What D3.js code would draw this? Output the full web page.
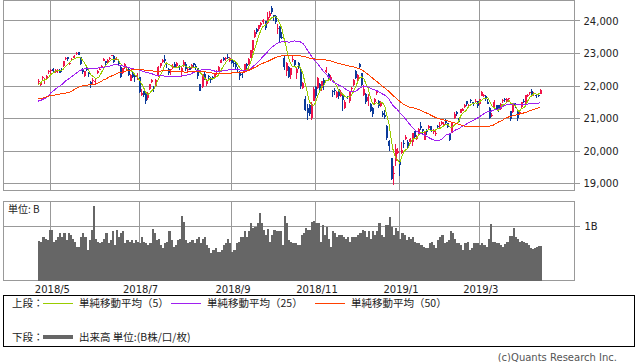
<!DOCTYPE html>
<html>
<head>
<meta charset="utf-8">
<script src="https://cdn.jsdelivr.net/npm/d3@7"></script>
<style>
  body { margin: 0; background: #fff; }
  svg { display: block; font-family: "DejaVu Sans", sans-serif; }
  .jp { font-family: "Noto Sans CJK JP", sans-serif; }
</style>
</head>
<body>
<svg id="chart" width="638" height="362"></svg>
<script>
// trading days shown on the chart (month -> day numbers)
const tradingDays = [
  ["2018/4", [20,23,24,25,26,27]],
  ["2018/5", [1,2,7,8,9,10,11,14,15,16,17,18,21,22,23,24,25,28,29,30,31]],
  ["2018/6", [1,4,5,6,7,8,11,12,13,14,15,18,19,20,21,22,25,26,27,28,29]],
  ["2018/7", [2,3,4,5,6,9,10,11,12,13,17,18,19,20,23,24,25,26,27,30,31]],
  ["2018/8", [1,2,3,6,7,8,9,10,13,14,15,16,17,20,21,22,23,24,27,28,29,30,31]],
  ["2018/9", [3,4,5,6,7,10,11,12,13,14,18,19,20,21,25,26,27,28]],
  ["2018/10", [1,2,3,4,5,9,10,11,12,15,16,17,18,19,22,23,24,25,26,29,30,31]],
  ["2018/11", [1,2,5,6,7,8,9,12,13,14,15,16,19,20,21,22,26,27,28,29,30]],
  ["2018/12", [3,4,5,6,7,10,11,12,13,14,17,18,19,20,21,25,26,27,28]],
  ["2019/1", [4,7,8,9,10,11,15,16,17,18,21,22,23,24,25,28,29,30,31]],
  ["2019/2", [1,4,5,6,7,8,12,13,14,15,18,19,20,21,22,25,26,27,28]],
  ["2019/3", [1,4,5,6,7,8,11,12,13,14,15,18,19,20,22,25,26,27,28,29]],
  ["2019/4", [1,2,3,4,5,8,9,10,11,12]]
];

// closes before the window (2018/2/1 - 2018/4/19), only used to warm up the moving averages
const priorCloses = [
  23486,23274,22682,21610,21645,21891,21383,21245,21154,21464,21720,22149,21925,21970,21736,21892,22153,22389,22068,
  21724,21181,21042,21417,21252,21368,21469,21824,21968,21777,21803,21676,21480,21380,21591,20617,20766,21317,21031,21159,21454,
  21388,21292,21319,21645,21567,21678,21794,21687,21660,21778,21835,21847,22158,22191
];

const opens = [
  22120,22036,22235,22175,22248,22423,
  22489,22530,22455,22472,22488,22512,22612,22847,22882,22667,22810,22877,23002,23050,22889,22500,22316,22512,22427,22137,22183,
  22126,22407,22507,22588,22782,22756,22728,22848,22946,22921,22813,22779,22580,22396,22622,22480,22533,22144,22423,22303,22268,
  22278,21720,21854,21766,21620,21906,22131,21981,22001,22303,22623,22732,22836,22703,22513,22500,22540,22668,22621,22600,22470,
  22621,22665,22498,22589,22545,22710,22611,22558,22051,21974,22359,22050,22319,22236,22287,22278,22394,22478,22720,22856,22821,22896,22773,
  22811,22717,22739,22537,22400,22383,22431,22683,22668,22878,23096,23518,23764,23742,23890,23980,23993,23926,
  24142,24390,24183,24150,23765,23818,23523,22866,22451,22574,22329,22831,22811,22409,22698,22521,21951,21594,21326,21422,21015,21540,
  21957,21951,22072,21939,22185,22442,22380,22227,21836,21864,21670,21912,21700,21735,21337,21663,21540,21910,22027,22460,22228,
  22683,22411,21736,21760,21536,21455,21337,21495,21777,21530,21397,21184,21119,20781,20310,19785,19302,19706,19957,
  19655,19944,20262,20366,20270,20296,20290,20624,20394,20586,20785,20677,20345,20645,20712,20770,20583,20551,20778,
  20764,20844,20810,20926,20864,20547,20562,21018,21188,21021,21167,21237,21359,21543,21406,21575,21509,21523,21536,
  21459,21707,21709,21710,21525,21333,21102,21329,21411,21412,21305,21531,21598,21522,21615,21230,21195,21470,21258,21173,
  21365,21547,21483,21710,21772,21853,21743,21736,21740,21755
];

const highs = [
  22226,22135,22313,22255,22340,22501,
  22532,22556,22528,22535,22522,22540,22770,22880,22888,22745,22850,22947,23050,23050,22903,22567,22464,22591,22444,22164,22236,
  22226,22506,22573,22636,22856,22779,22826,22907,22969,22962,22895,22817,22611,22564,22708,22578,22576,22384,22467,22336,22391,
  22282,21901,21859,21801,21825,22074,22216,22005,22210,22623,22715,22836,22949,22738,22566,22537,22668,22746,22734,22653,22593,
  22806,22730,22545,22618,22684,22717,22688,22566,22056,22362,22445,22230,22341,22284,22319,22403,22480,22628,22828,22883,22890,22977,22906,
  22832,22790,22757,22588,22459,22444,22676,22717,22853,23111,23429,23709,23781,23888,23954,24054,24000,24286,
  24306,24448,24183,24179,23895,23840,23650,22927,22729,22626,22558,22959,22811,22580,22727,22543,22123,21681,21446,21459,21500,21985,
  22007,22267,22095,22164,22240,22583,22403,22325,21876,21950,21835,21921,21882,21749,21559,21686,21830,21979,22202,22485,22365,
  22698,22411,22036,21772,21749,21466,21356,21637,21889,21580,21554,21244,21267,20796,20334,19785,19530,20211,20084,
  19692,20266,20347,20494,20345,20389,20555,20628,20508,20701,20892,20687,20633,20685,20788,20774,20695,20620,20811,
  20910,20919,20888,20981,20864,20564,20882,21213,21235,21030,21303,21337,21455,21553,21457,21610,21518,21598,21545,
  21616,21860,21742,21717,21615,21361,21182,21558,21425,21416,21474,21613,21618,21620,21646,21231,21451,21470,21274,21233,
  21513,21595,21719,21764,21830,21900,21830,21750,21778,21900
];

const lows = [
  22063,21990,22145,22068,22175,22380,
  22384,22435,22390,22390,22388,22430,22590,22790,22780,22650,22760,22850,22960,22944,22660,22361,22294,22461,22290,21931,22018,
  22021,22380,22488,22552,22757,22583,22672,22791,22911,22719,22794,22626,22261,22358,22536,22458,22298,22143,22242,22137,22188,
  21796,21689,21657,21462,21579,21883,22106,21825,21959,22286,22568,22712,22700,22551,22344,22355,22519,22554,22598,22479,22282,
  22596,22452,22410,22485,22533,22597,22505,22221,21851,21933,22179,21993,22219,22101,22183,22232,22346,22430,22700,22769,22781,22819,22747,
  22670,22600,22530,22441,22172,22249,22398,22521,22646,22855,23010,23492,23614,23701,23830,23918,23725,23911,
  24087,24207,24007,23908,23600,23343,23432,22509,22323,22261,22212,22746,22615,22223,22532,21910,21919,21239,20971,21085,20971,21530,
  21619,21904,21862,21859,21880,22388,22183,22153,21658,21713,21627,21598,21656,21243,21285,21588,21465,21835,22004,22232,22167,
  22535,21989,21698,21456,21397,21204,21062,21433,21729,21330,21348,21054,20983,20333,20006,19117,18948,19530,19900,
  19241,19921,20103,20331,20101,20294,20168,20407,20328,20531,20660,20528,20343,20494,20665,20601,20522,20473,20685,
  20698,20801,20746,20835,20721,20315,20547,20996,21085,20856,21164,21220,21326,21400,21338,21480,21375,21497,21315,
  21409,21707,21650,21526,21442,21003,21059,21309,21256,21189,21271,21474,21502,21500,21515,20911,21177,21311,20940,21112,
  21312,21478,21438,21660,21723,21740,21707,21621,21662,21749
];

const closes = [
  22162,22088,22278,22215,22319,22467,
  22508,22472,22467,22509,22408,22497,22758,22865,22818,22717,22838,22930,23002,22960,22689,22437,22450,22481,22358,22018,22201,
  22171,22475,22539,22625,22823,22694,22804,22878,22966,22738,22851,22680,22278,22555,22693,22516,22338,22342,22271,22270,22305,
  21811,21785,21717,21546,21788,22052,22196,21932,22187,22597,22697,22794,22764,22698,22397,22510,22614,22586,22712,22544,22553,
  22746,22512,22525,22507,22662,22644,22598,22298,21857,22356,22204,22192,22270,22199,22219,22362,22410,22601,22799,22813,22848,22869,22865,
  22707,22697,22580,22487,22307,22373,22664,22604,22821,23094,23420,23672,23674,23869,23940,24033,23796,24120,
  24245,24270,24110,23975,23783,23469,23506,22590,22694,22271,22549,22841,22658,22532,22614,22010,22091,21268,21184,21149,21457,21920,
  21687,22243,21898,22147,22085,22486,22250,22269,21810,21846,21803,21680,21821,21583,21507,21646,21812,21952,22177,22262,22351,
  22574,22036,21919,21501,21678,21219,21148,21602,21816,21374,21506,21115,21060,20392,20166,19155,19327,20077,20014,
  19561,20038,20204,20427,20163,20359,20555,20442,20402,20666,20719,20622,20593,20574,20773,20649,20664,20556,20773,
  20788,20883,20844,20874,20751,20333,20864,21144,21139,20900,21281,21302,21431,21464,21425,21528,21449,21556,21385,
  21602,21822,21726,21596,21456,21025,21125,21503,21290,21287,21450,21584,21566,21608,21627,20977,21428,21378,21033,21205,
  21509,21505,21713,21724,21807,21761,21802,21687,21711,21870
];

// volume, billions of shares
const volumes = [
  0.72,0.70,0.79,0.76,0.74,0.93,
  0.93,0.71,0.74,0.80,0.88,0.80,0.87,0.74,0.88,0.83,0.77,0.71,0.62,0.62,0.80,0.88,0.80,0.56,0.74,0.93,1.36,
  0.76,0.71,0.68,0.71,0.77,0.87,0.68,0.74,0.90,0.65,0.93,0.80,0.87,0.90,0.68,0.74,0.71,0.74,0.68,0.74,0.71,
  0.68,0.80,0.71,0.68,0.65,0.68,0.94,0.87,0.74,0.77,0.65,0.59,0.68,0.71,0.90,0.74,0.62,0.65,0.74,0.77,1.19,
  1.08,0.74,0.68,0.71,0.74,0.68,0.77,0.80,0.68,0.77,0.80,0.65,0.59,0.50,0.56,0.59,0.53,0.53,0.56,0.65,0.68,0.77,0.68,
  0.53,0.56,0.68,0.71,0.80,0.80,0.90,0.80,0.90,1.05,0.96,0.99,1.05,1.23,1.05,0.93,0.83,0.94,
  0.71,0.83,0.93,0.90,0.90,0.90,0.65,1.19,1.05,0.74,0.71,0.68,0.68,0.65,0.65,0.83,0.87,0.96,0.93,0.93,1.08,1.09,
  1.05,1.06,0.71,1.02,0.83,0.99,0.77,0.62,0.90,0.87,0.80,0.83,0.83,0.80,0.77,0.80,0.71,0.80,0.80,0.80,0.83,
  0.87,0.93,0.90,0.80,0.91,0.77,0.90,0.83,0.90,1.05,0.83,0.80,1.02,1.02,1.16,0.99,0.83,0.96,0.90,
  0.77,0.87,0.83,0.74,0.80,0.77,0.80,0.71,0.68,0.68,0.65,0.62,0.59,0.59,0.68,0.71,0.65,0.59,0.74,
  0.80,0.83,0.68,0.71,0.74,0.90,0.87,0.77,0.68,0.68,0.65,0.56,0.68,0.71,0.56,0.59,0.69,0.68,0.69,
  0.65,0.68,0.65,0.62,0.77,1.04,0.71,0.71,0.68,0.69,0.65,0.62,0.67,0.71,0.82,0.82,0.96,0.80,0.76,0.71,
  0.73,0.71,0.68,0.65,0.59,0.57,0.59,0.62,0.63,0.63
];

const maPeriods = [5, 25, 50];
const maColors = ["#99cc00", "#a020f0", "#ff4000"];
const maLabels = ["単純移動平均（5）", "単純移動平均（25）", "単純移動平均（50）"];
const priceTicks = [19000, 20000, 21000, 22000, 23000, 24000];
const volumeTicks = [1];
const monthTicks = ["2018/5", "2018/7", "2018/9", "2018/11", "2019/1", "2019/3"];

const dates = tradingDays.flatMap(([m, ds]) => ds.map((d) => m + "/" + d));
const monthOf = (d) => d.split("/").slice(0, 2).join("/");

const svg = d3.select("#chart");
svg.append("rect").attr("width", 638).attr("height", 362).attr("fill", "#fff");

const x = d3.scalePoint().domain(dates).range([38.3, 540.2]);
const y = d3.scaleLinear().domain([18790, 24630]).range([190.5, 0.5]);
const yv = d3.scaleLinear().domain([0, 1.45]).range([280.5, 201.5]);

const left = 3.5, right = 574.5;
const gridColor = "#999";

// month gridlines (first trading day of each labelled month)
const monthX = monthTicks.map((m) => x(dates.find((d) => monthOf(d) === m)));

function panel(top, bottom) {
  const g = svg.append("g").attr("shape-rendering", "crispEdges");
  g.selectAll("line.v")
    .data(monthX)
    .enter()
    .append("line")
    .attr("x1", (d) => d).attr("x2", (d) => d)
    .attr("y1", top).attr("y2", bottom)
    .attr("stroke", gridColor);
  g.append("rect")
    .attr("x", left).attr("y", top)
    .attr("width", right - left).attr("height", bottom - top)
    .attr("fill", "none").attr("stroke", gridColor);
  return g;
}

// ---- price panel
const pg = panel(0.5, 190.5);
pg.selectAll("line.h")
  .data(priceTicks)
  .enter()
  .append("line")
  .attr("x1", left).attr("x2", right + 5)
  .attr("y1", (d) => y(d)).attr("y2", (d) => y(d))
  .attr("stroke", gridColor);

svg.append("g")
  .attr("transform", `translate(${right + 5},0)`)
  .call(d3.axisRight(y).tickValues(priceTicks).tickSize(0).tickPadding(4).tickFormat(d3.format(",")))
  .call((g) => g.select(".domain").remove())
  .selectAll("text")
  .attr("font-size", 10)
  .attr("font-family", "DejaVu Sans")
  .attr("fill", "#222");

// candles
const candle = svg.append("g").attr("shape-rendering", "crispEdges");
const up = (i) => closes[i] >= opens[i];
const colorOf = (i) => (up(i) ? "#f0144a" : "#0b3a9a");

candle.selectAll("line")
  .data(dates)
  .enter()
  .append("line")
  .attr("x1", (d) => x(d)).attr("x2", (d) => x(d))
  .attr("y1", (d, i) => y(highs[i]))
  .attr("y2", (d, i) => y(lows[i]))
  .attr("stroke", (d, i) => colorOf(i));

candle.selectAll("rect")
  .data(dates)
  .enter()
  .append("rect")
  .attr("x", (d) => x(d) - 0.6)
  .attr("width", 2)
  .attr("y", (d, i) => y(Math.max(opens[i], closes[i])))
  .attr("height", (d, i) => Math.max(1, Math.abs(y(opens[i]) - y(closes[i]))))
  .attr("fill", (d, i) => colorOf(i));

// moving averages
const allCloses = priorCloses.concat(closes);
const offset = priorCloses.length;
maPeriods.forEach((n, k) => {
  const ma = dates.map((d, i) => d3.mean(allCloses.slice(offset + i - n + 1, offset + i + 1)));
  svg.append("path")
    .datum(ma)
    .attr("fill", "none")
    .attr("stroke", maColors[k])
    .attr("stroke-width", 1)
    .attr("shape-rendering", "crispEdges")
    .attr("d", d3.line().x((d, i) => x(dates[i])).y((d) => y(d)));
});

// ---- volume panel
const vg = panel(201.5, 280.5);
vg.selectAll("line.h")
  .data(volumeTicks)
  .enter()
  .append("line")
  .attr("x1", left).attr("x2", right + 5)
  .attr("y1", (d) => yv(d)).attr("y2", (d) => yv(d))
  .attr("stroke", gridColor);

svg.append("g")
  .attr("shape-rendering", "crispEdges")
  .selectAll("rect")
  .data(volumes)
  .enter()
  .append("rect")
  .attr("x", (d, i) => x(dates[i]) - 0.2)
  .attr("width", 2.2)
  .attr("y", (d) => yv(d))
  .attr("height", (d) => yv(0) - yv(d))
  .attr("fill", "#666");

svg.append("g")
  .attr("transform", `translate(${right + 5},0)`)
  .call(d3.axisRight(yv).tickValues(volumeTicks).tickSize(0).tickPadding(5).tickFormat((d) => d + "B"))
  .call((g) => g.select(".domain").remove())
  .selectAll("text")
  .attr("font-size", 10)
  .attr("font-family", "DejaVu Sans")
  .attr("fill", "#222");

svg.append("text")
  .attr("class", "jp")
  .attr("x", 8).attr("y", 213)
  .attr("font-size", 10)
  .attr("fill", "#222")
  .text("単位: B");

// month labels
svg.selectAll("text.month")
  .data(monthTicks)
  .enter()
  .append("text")
  .attr("x", (d, i) => monthX[i] + 1.5)
  .attr("y", 293)
  .attr("text-anchor", "middle")
  .attr("font-size", 10)
  .attr("fill", "#222")
  .text((d) => d);

// ---- legend
const lg = svg.append("g");
lg.append("rect")
  .attr("x", 3.5).attr("y", 295.5)
  .attr("width", 631).attr("height", 51)
  .attr("fill", "none").attr("stroke", "#000")
  .attr("shape-rendering", "crispEdges");

const jpText = (xx, yy, t) =>
  lg.append("text").attr("class", "jp").attr("x", xx).attr("y", yy)
    .attr("font-size", 10.5).attr("fill", "#222").text(t);

jpText(12, 307, "上段：");
const legendX = [43, 171, 315];
maLabels.forEach((t, k) => {
  lg.append("line")
    .attr("x1", legendX[k]).attr("x2", legendX[k] + 30)
    .attr("y1", 303.5).attr("y2", 303.5)
    .attr("stroke", maColors[k]);
  jpText(legendX[k] + 36, 307, t);
});

jpText(12, 340.5, "下段：");
lg.append("line")
  .attr("x1", 43).attr("x2", 73)
  .attr("y1", 337).attr("y2", 337)
  .attr("stroke", "#666").attr("stroke-width", 4);
jpText(79, 340.5, "出来高 単位:(B株/口/枚)");

svg.append("text")
  .attr("x", 617).attr("y", 361)
  .attr("text-anchor", "end")
  .attr("font-size", 10)
  .attr("fill", "#555")
  .text("(c)Quants Research Inc.");
</script>
</body>
</html>
